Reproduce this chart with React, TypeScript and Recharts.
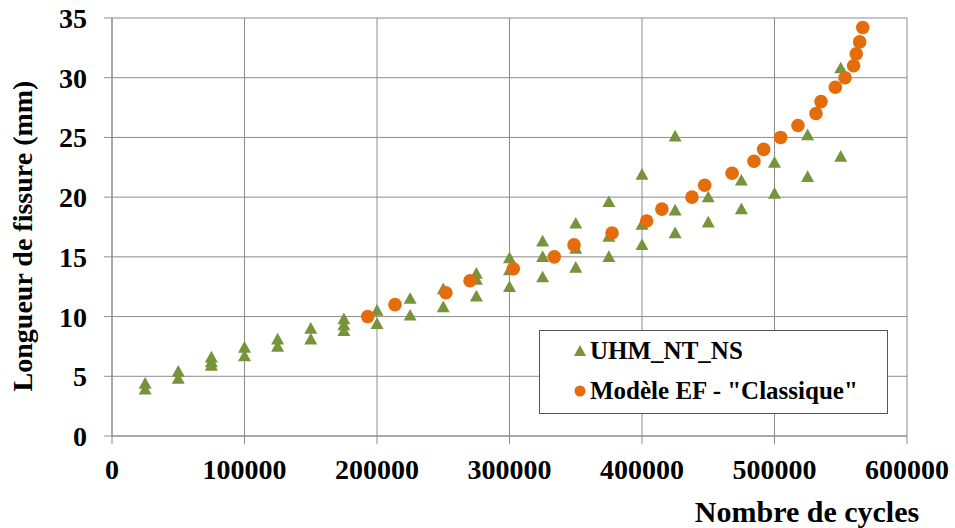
import React from 'react';
import { ScatterChart, Scatter, XAxis, YAxis, CartesianGrid, Legend } from 'recharts';

// UHM_NT_NS essais (cycles, longueur de fissure mm)
const essaiCycles = [
  25000, 25000, 50000, 50000, 75000, 75000, 75000, 100000, 100000, 125000, 125000,
  150000, 150000, 175000, 175000, 175000, 200000, 200000, 225000, 225000, 250000, 250000,
  275000, 275000, 275000, 300000, 300000, 300000, 325000, 325000, 325000,
  350000, 350000, 350000, 375000, 375000, 375000, 400000, 400000, 400000,
  425000, 425000, 425000, 450000, 450000, 475000, 475000, 500000, 500000,
  525000, 525000, 550000, 550000,
];
const essaiLongueur = [
  4.4, 3.9, 5.4, 4.8, 6.6, 6.2, 5.9, 7.4, 6.7, 8.1, 7.5,
  9.0, 8.1, 9.8, 9.3, 8.8, 10.5, 9.4, 11.5, 10.1, 12.3, 10.8,
  13.6, 13.1, 11.7, 14.9, 13.9, 12.5, 16.3, 15.0, 13.3,
  17.8, 15.7, 14.1, 19.6, 16.7, 15.0, 21.9, 17.7, 16.0,
  25.1, 18.9, 17.0, 20.0, 17.9, 21.4, 19.0, 22.9, 20.3,
  25.2, 21.7, 30.8, 23.4,
];

// Modèle EF - "Classique"
const modeleCycles = [
  193000, 213600, 252000, 270200, 302900, 333800, 348700, 377400, 403500, 415000,
  437700, 447300, 468000, 484500, 491800, 504600, 517700, 531300, 535100, 545900,
  553200, 559700, 561700, 564300, 566600,
];
const modeleLongueur = [
  10.0, 11.0, 12.0, 13.0, 14.0, 15.0, 16.0, 17.0, 18.0, 19.0,
  20.0, 21.0, 22.0, 23.0, 24.0, 25.0, 26.0, 27.0, 28.0, 29.2,
  30.0, 31.0, 32.0, 33.0, 34.2,
];

const xTicks = [0, 100000, 200000, 300000, 400000, 500000, 600000];
const yTicks = [0, 5, 10, 15, 20, 25, 30, 35];

const essaiData = essaiCycles.map((x, i) => ({ x, y: essaiLongueur[i] }));
const modeleData = modeleCycles.map((x, i) => ({ x, y: modeleLongueur[i] }));

const GREEN = '#77933C';
const ORANGE = '#E46C0A';
const GRID = '#8c8c8c';
const FONT = '"Liberation Serif", "Times New Roman", serif';

const Triangle = (props: any) => {
  const { cx, cy } = props;
  const s = 6.5;
  return (
    <polygon
      points={`${cx},${cy - s} ${cx + s},${cy + s * 0.8} ${cx - s},${cy + s * 0.8}`}
      fill={GREEN}
    />
  );
};

const Dot = (props: any) => {
  const { cx, cy } = props;
  return <circle cx={cx} cy={cy} r={6.8} fill={ORANGE} />;
};

const LegendBox = () => (
  <div
    style={{
      width: 349,
      height: 84,
      border: '1px solid #555',
      background: '#fff',
      fontFamily: FONT,
      fontWeight: 'bold',
      fontSize: 25,
      color: '#000',
      boxSizing: 'border-box',
      position: 'relative',
    }}
  >
    <div style={{ position: 'absolute', left: 33, top: 6, display: 'flex', alignItems: 'center' }}>
      <svg width={14} height={14} style={{ marginRight: 3 }}>
        <polygon points="7,1 13,12 1,12" fill={GREEN} />
      </svg>
      UHM_NT_NS
    </div>
    <div style={{ position: 'absolute', left: 33, top: 46, display: 'flex', alignItems: 'center' }}>
      <svg width={14} height={14} style={{ marginRight: 3 }}>
        <circle cx={7} cy={7} r={5.5} fill={ORANGE} />
      </svg>
      Modèle EF - "Classique"
    </div>
  </div>
);

const YTitle = () => (
  <text
    x={32}
    y={236}
    transform="rotate(-90, 32, 236)"
    textAnchor="middle"
    fontFamily={FONT}
    fontWeight="bold"
    fontSize={28}
    fill="#000"
  >
    Longueur de fissure (mm)
  </text>
);

const XTitle = () => (
  <text
    x={807}
    y={522}
    textAnchor="middle"
    fontFamily={FONT}
    fontWeight="bold"
    fontSize={30}
    fill="#000"
  >
    Nombre de cycles
  </text>
);

const tickStyle = { fontFamily: FONT, fontWeight: 'bold', fontSize: 28, fill: '#000' };

export default function App() {
  return (
    <div style={{ position: 'absolute', left: 0, top: 0, width: 955, height: 528, background: '#fff' }}>
      <ScatterChart width={955} height={528} margin={{ top: 18, right: 48, bottom: 32, left: 0 }}>
        <CartesianGrid stroke={GRID} strokeWidth={1} />
        <XAxis
          type="number"
          dataKey="x"
          domain={[0, 600000]}
          ticks={xTicks}
          height={60}
          interval={0}
          tickSize={8}
          tickMargin={15}
          stroke={GRID}
          tick={tickStyle}
          label={<XTitle />}
        />
        <YAxis
          type="number"
          dataKey="y"
          domain={[0, 35]}
          ticks={yTicks}
          width={112}
          interval={0}
          tickSize={8}
          tickMargin={17}
          stroke={GRID}
          tick={tickStyle}
          label={<YTitle />}
        />
        <Legend
          layout="horizontal"
          verticalAlign="middle"
          align="center"
          content={<LegendBox />}
          wrapperStyle={{ position: 'absolute', left: 539, top: 330, width: 349, height: 84 }}
        />
        <Scatter name="UHM_NT_NS" data={essaiData} shape={<Triangle />} isAnimationActive={false} />
        <Scatter name='Modèle EF - "Classique"' data={modeleData} shape={<Dot />} isAnimationActive={false} />
      </ScatterChart>
    </div>
  );
}
